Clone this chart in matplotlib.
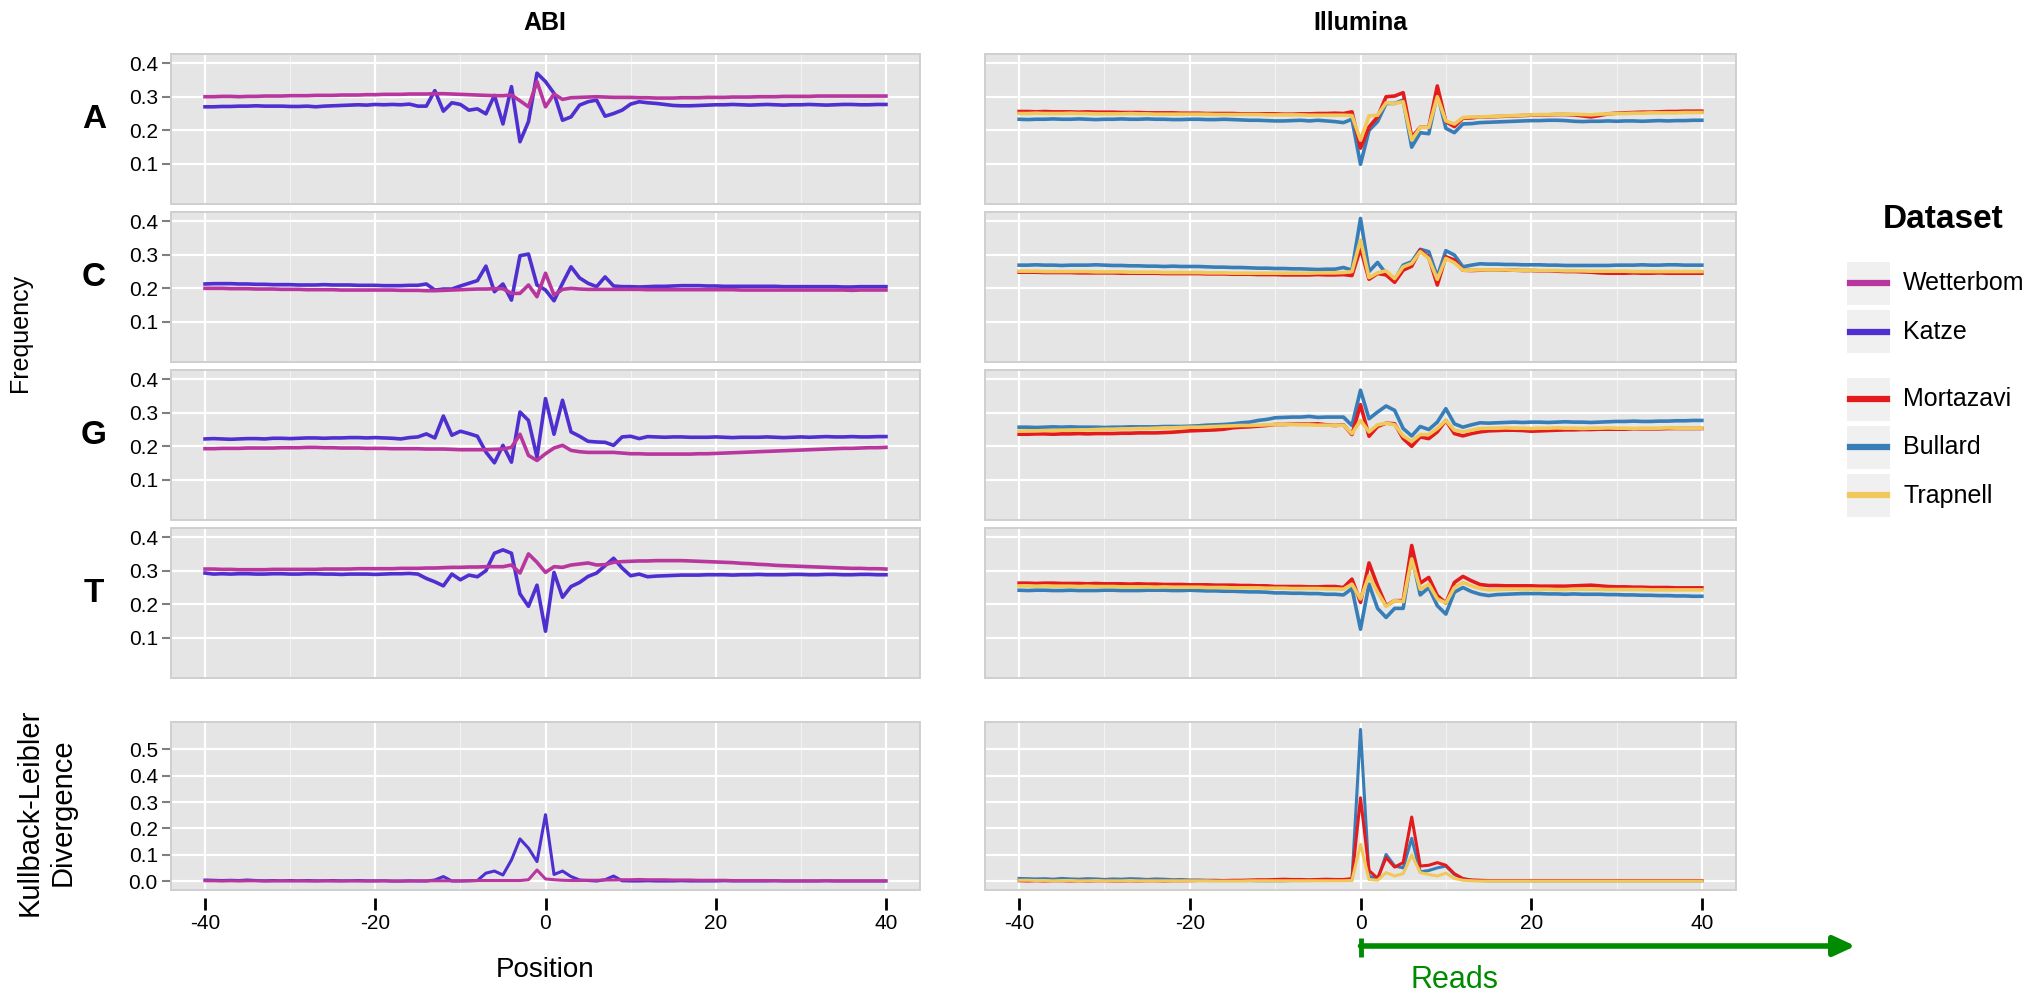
import matplotlib
matplotlib.use("Agg")
import matplotlib.pyplot as plt
import matplotlib.transforms as mtransforms
from matplotlib.patches import Rectangle
from matplotlib.lines import Line2D

plt.rcParams['font.family'] = ['Liberation Sans', 'DejaVu Sans']
plt.rcParams['axes.unicode_minus'] = False

# ---------------------------------------------------------------- data
positions = list(range(-40, 41))
bases = ["A", "C", "G", "T"]

# ABI: Wetterbom / Katze nucleotide frequencies
abi_wetterbom_A = [
    0.300, 0.300, 0.301, 0.301, 0.300, 0.301, 0.301, 0.302, 0.302, 0.302,
    0.303, 0.303, 0.303, 0.304, 0.304, 0.304, 0.305, 0.305, 0.305, 0.306,
    0.306, 0.307, 0.307, 0.307, 0.308, 0.308, 0.308, 0.309, 0.309, 0.308,
    0.307, 0.306, 0.305, 0.304, 0.303, 0.303, 0.305, 0.288, 0.270, 0.345,
    0.270, 0.308, 0.292, 0.297, 0.298, 0.299, 0.300, 0.299, 0.298, 0.298,
    0.298, 0.297, 0.297, 0.296, 0.296, 0.296, 0.297, 0.297, 0.297, 0.298,
    0.298, 0.298, 0.299, 0.299, 0.299, 0.300, 0.300, 0.300, 0.301, 0.301,
    0.301, 0.301, 0.302, 0.302, 0.302, 0.302, 0.302, 0.302, 0.302, 0.302,
    0.302]
abi_katze_A = [
    0.270, 0.270, 0.271, 0.271, 0.272, 0.272, 0.273, 0.272, 0.272, 0.272,
    0.271, 0.271, 0.272, 0.270, 0.272, 0.273, 0.274, 0.275, 0.276, 0.275,
    0.277, 0.276, 0.277, 0.276, 0.278, 0.272, 0.272, 0.318, 0.257, 0.282,
    0.277, 0.260, 0.264, 0.249, 0.304, 0.219, 0.330, 0.166, 0.226, 0.370,
    0.345, 0.310, 0.230, 0.240, 0.275, 0.285, 0.290, 0.242, 0.250, 0.260,
    0.278, 0.285, 0.282, 0.280, 0.277, 0.274, 0.273, 0.273, 0.274, 0.275,
    0.276, 0.276, 0.277, 0.276, 0.275, 0.276, 0.277, 0.276, 0.275, 0.276,
    0.276, 0.277, 0.276, 0.275, 0.276, 0.277, 0.277, 0.276, 0.276, 0.277,
    0.277]
abi_wetterbom_C = [
    0.200, 0.200, 0.200, 0.199, 0.199, 0.199, 0.198, 0.198, 0.198, 0.197,
    0.197, 0.197, 0.196, 0.196, 0.196, 0.196, 0.195, 0.195, 0.195, 0.195,
    0.195, 0.195, 0.195, 0.194, 0.194, 0.194, 0.193, 0.193, 0.194, 0.195,
    0.196, 0.197, 0.198, 0.198, 0.199, 0.199, 0.185, 0.185, 0.210, 0.175,
    0.245, 0.180, 0.197, 0.200, 0.198, 0.197, 0.197, 0.197, 0.197, 0.197,
    0.197, 0.197, 0.196, 0.196, 0.196, 0.196, 0.196, 0.196, 0.196, 0.196,
    0.196, 0.196, 0.196, 0.195, 0.195, 0.195, 0.195, 0.195, 0.195, 0.195,
    0.195, 0.195, 0.195, 0.195, 0.195, 0.195, 0.194, 0.195, 0.195, 0.195,
    0.195]
abi_katze_C = [
    0.213, 0.214, 0.214, 0.214, 0.213, 0.213, 0.212, 0.212, 0.211, 0.211,
    0.211, 0.210, 0.210, 0.210, 0.211, 0.210, 0.210, 0.210, 0.209, 0.209,
    0.209, 0.208, 0.208, 0.208, 0.209, 0.209, 0.213, 0.195, 0.198, 0.198,
    0.207, 0.215, 0.223, 0.266, 0.190, 0.213, 0.165, 0.297, 0.302, 0.210,
    0.195, 0.163, 0.215, 0.264, 0.231, 0.215, 0.205, 0.234, 0.207, 0.205,
    0.205, 0.204, 0.205, 0.206, 0.206, 0.207, 0.208, 0.208, 0.208, 0.207,
    0.207, 0.206, 0.206, 0.206, 0.206, 0.206, 0.206, 0.206, 0.205, 0.205,
    0.205, 0.205, 0.205, 0.205, 0.205, 0.204, 0.204, 0.205, 0.205, 0.205,
    0.205]
abi_wetterbom_G = [
    0.193, 0.193, 0.194, 0.194, 0.194, 0.195, 0.195, 0.195, 0.195, 0.196,
    0.196, 0.196, 0.197, 0.197, 0.196, 0.196, 0.195, 0.195, 0.195, 0.194,
    0.194, 0.194, 0.193, 0.193, 0.193, 0.193, 0.192, 0.192, 0.192, 0.191,
    0.190, 0.190, 0.190, 0.190, 0.191, 0.192, 0.197, 0.236, 0.173, 0.158,
    0.178, 0.195, 0.203, 0.188, 0.184, 0.182, 0.182, 0.182, 0.182, 0.180,
    0.178, 0.178, 0.177, 0.177, 0.177, 0.177, 0.177, 0.177, 0.178, 0.178,
    0.179, 0.180, 0.181, 0.182, 0.183, 0.184, 0.185, 0.186, 0.187, 0.188,
    0.189, 0.190, 0.191, 0.192, 0.193, 0.194, 0.194, 0.195, 0.196, 0.196,
    0.197]
abi_katze_G = [
    0.222, 0.223, 0.222, 0.221, 0.222, 0.223, 0.223, 0.222, 0.224, 0.224,
    0.223, 0.224, 0.225, 0.225, 0.224, 0.225, 0.225, 0.226, 0.226, 0.225,
    0.226, 0.225, 0.224, 0.222, 0.226, 0.228, 0.237, 0.225, 0.290, 0.233,
    0.245, 0.238, 0.230, 0.183, 0.151, 0.203, 0.153, 0.302, 0.277, 0.168,
    0.342, 0.236, 0.337, 0.243, 0.230, 0.215, 0.213, 0.212, 0.203, 0.228,
    0.230, 0.223, 0.229, 0.228, 0.227, 0.228, 0.228, 0.227, 0.227, 0.227,
    0.228, 0.227, 0.226, 0.227, 0.227, 0.227, 0.228, 0.227, 0.226, 0.227,
    0.228, 0.227, 0.228, 0.229, 0.228, 0.228, 0.229, 0.228, 0.228, 0.229,
    0.229]
abi_wetterbom_T = [
    0.305, 0.305, 0.304, 0.304, 0.303, 0.303, 0.303, 0.303, 0.304, 0.304,
    0.304, 0.304, 0.304, 0.304, 0.305, 0.305, 0.305, 0.305, 0.306, 0.306,
    0.306, 0.306, 0.306, 0.307, 0.307, 0.307, 0.308, 0.308, 0.309, 0.310,
    0.310, 0.311, 0.311, 0.312, 0.312, 0.312, 0.317, 0.293, 0.350, 0.325,
    0.295, 0.312, 0.310, 0.317, 0.320, 0.323, 0.317, 0.318, 0.325, 0.327,
    0.328, 0.329, 0.329, 0.330, 0.330, 0.330, 0.330, 0.329, 0.328, 0.327,
    0.326, 0.325, 0.324, 0.322, 0.321, 0.319, 0.318, 0.316, 0.315, 0.314,
    0.313, 0.312, 0.311, 0.310, 0.309, 0.308, 0.307, 0.307, 0.306, 0.306,
    0.305]
abi_katze_T = [
    0.293, 0.290, 0.291, 0.290, 0.291, 0.291, 0.290, 0.290, 0.291, 0.291,
    0.290, 0.290, 0.291, 0.291, 0.290, 0.290, 0.289, 0.290, 0.290, 0.290,
    0.289, 0.290, 0.291, 0.291, 0.292, 0.290, 0.277, 0.267, 0.255, 0.290,
    0.273, 0.287, 0.282, 0.300, 0.352, 0.362, 0.352, 0.231, 0.194, 0.257,
    0.120, 0.295, 0.221, 0.253, 0.265, 0.283, 0.293, 0.315, 0.337, 0.308,
    0.285, 0.290, 0.282, 0.284, 0.285, 0.286, 0.287, 0.287, 0.287, 0.288,
    0.288, 0.288, 0.287, 0.288, 0.288, 0.289, 0.288, 0.288, 0.288, 0.289,
    0.289, 0.288, 0.288, 0.289, 0.289, 0.288, 0.288, 0.289, 0.289, 0.288,
    0.288]

# Illumina: Mortazavi / Bullard / Trapnell nucleotide frequencies
ill_mortazavi_A = [
    0.256, 0.256, 0.255, 0.256, 0.255, 0.255, 0.255, 0.254, 0.255, 0.254,
    0.254, 0.254, 0.253, 0.253, 0.253, 0.252, 0.252, 0.252, 0.252, 0.251,
    0.251, 0.251, 0.250, 0.250, 0.250, 0.250, 0.249, 0.249, 0.249, 0.249,
    0.249, 0.248, 0.248, 0.249, 0.249, 0.250, 0.250, 0.251, 0.250, 0.255,
    0.147, 0.210, 0.240, 0.300, 0.302, 0.312, 0.180, 0.209, 0.209, 0.332,
    0.226, 0.211, 0.236, 0.237, 0.240, 0.240, 0.241, 0.242, 0.243, 0.244,
    0.245, 0.246, 0.246, 0.247, 0.247, 0.246, 0.243, 0.240, 0.244, 0.249,
    0.251, 0.252, 0.253, 0.254, 0.254, 0.255, 0.256, 0.256, 0.257, 0.257,
    0.257]
ill_bullard_A = [
    0.233, 0.232, 0.233, 0.233, 0.234, 0.233, 0.233, 0.234, 0.233, 0.232,
    0.233, 0.233, 0.234, 0.233, 0.233, 0.234, 0.233, 0.233, 0.232, 0.232,
    0.233, 0.233, 0.232, 0.232, 0.233, 0.232, 0.231, 0.230, 0.230, 0.229,
    0.228, 0.228, 0.229, 0.230, 0.228, 0.230, 0.228, 0.226, 0.223, 0.233,
    0.099, 0.200, 0.226, 0.280, 0.280, 0.290, 0.150, 0.193, 0.190, 0.310,
    0.206, 0.193, 0.219, 0.220, 0.223, 0.224, 0.225, 0.226, 0.227, 0.228,
    0.229, 0.229, 0.230, 0.230, 0.229, 0.227, 0.226, 0.227, 0.227, 0.228,
    0.227, 0.228, 0.228, 0.227, 0.228, 0.229, 0.228, 0.229, 0.229, 0.230,
    0.230]
ill_trapnell_A = [
    0.250, 0.250, 0.251, 0.250, 0.250, 0.250, 0.251, 0.250, 0.250, 0.249,
    0.249, 0.249, 0.249, 0.250, 0.249, 0.249, 0.248, 0.248, 0.248, 0.248,
    0.248, 0.248, 0.248, 0.247, 0.247, 0.247, 0.247, 0.247, 0.247, 0.246,
    0.246, 0.246, 0.246, 0.246, 0.245, 0.245, 0.245, 0.245, 0.245, 0.244,
    0.171, 0.243, 0.245, 0.282, 0.280, 0.285, 0.171, 0.209, 0.209, 0.300,
    0.228, 0.219, 0.238, 0.240, 0.240, 0.241, 0.242, 0.243, 0.244, 0.245,
    0.246, 0.247, 0.247, 0.248, 0.248, 0.248, 0.247, 0.246, 0.248, 0.249,
    0.250, 0.250, 0.251, 0.251, 0.252, 0.252, 0.252, 0.252, 0.253, 0.253,
    0.253]
ill_mortazavi_C = [
    0.248, 0.248, 0.248, 0.247, 0.247, 0.247, 0.247, 0.246, 0.246, 0.246,
    0.246, 0.246, 0.245, 0.245, 0.245, 0.245, 0.245, 0.244, 0.244, 0.244,
    0.244, 0.244, 0.243, 0.243, 0.243, 0.242, 0.242, 0.242, 0.241, 0.241,
    0.241, 0.240, 0.240, 0.240, 0.240, 0.241, 0.240, 0.240, 0.241, 0.238,
    0.319, 0.227, 0.244, 0.240, 0.218, 0.254, 0.266, 0.314, 0.292, 0.210,
    0.294, 0.284, 0.254, 0.253, 0.254, 0.255, 0.255, 0.254, 0.254, 0.253,
    0.253, 0.252, 0.252, 0.251, 0.250, 0.250, 0.249, 0.248, 0.246, 0.245,
    0.245, 0.245, 0.246, 0.245, 0.245, 0.246, 0.245, 0.245, 0.245, 0.245,
    0.245]
ill_bullard_C = [
    0.269, 0.269, 0.270, 0.269, 0.269, 0.268, 0.269, 0.269, 0.269, 0.270,
    0.269, 0.268, 0.268, 0.267, 0.267, 0.266, 0.266, 0.265, 0.266, 0.265,
    0.265, 0.265, 0.264, 0.263, 0.263, 0.262, 0.262, 0.261, 0.260, 0.260,
    0.259, 0.259, 0.258, 0.258, 0.257, 0.256, 0.257, 0.257, 0.262, 0.254,
    0.408, 0.250, 0.277, 0.244, 0.225, 0.269, 0.279, 0.316, 0.309, 0.234,
    0.312, 0.299, 0.264, 0.269, 0.273, 0.272, 0.272, 0.271, 0.271, 0.270,
    0.270, 0.270, 0.269, 0.269, 0.268, 0.268, 0.268, 0.268, 0.268, 0.268,
    0.269, 0.269, 0.269, 0.270, 0.269, 0.269, 0.270, 0.270, 0.269, 0.269,
    0.269]
ill_trapnell_C = [
    0.251, 0.251, 0.251, 0.250, 0.250, 0.250, 0.250, 0.250, 0.250, 0.249,
    0.249, 0.249, 0.249, 0.248, 0.248, 0.248, 0.248, 0.247, 0.247, 0.247,
    0.247, 0.247, 0.246, 0.246, 0.246, 0.245, 0.245, 0.245, 0.245, 0.245,
    0.245, 0.245, 0.245, 0.245, 0.245, 0.246, 0.246, 0.246, 0.247, 0.250,
    0.344, 0.232, 0.246, 0.252, 0.229, 0.264, 0.274, 0.309, 0.289, 0.227,
    0.289, 0.276, 0.254, 0.254, 0.255, 0.255, 0.255, 0.255, 0.254, 0.254,
    0.254, 0.253, 0.253, 0.253, 0.252, 0.252, 0.252, 0.251, 0.251, 0.251,
    0.251, 0.251, 0.250, 0.250, 0.250, 0.250, 0.250, 0.250, 0.250, 0.250,
    0.250]
ill_mortazavi_G = [
    0.236, 0.236, 0.237, 0.237, 0.236, 0.237, 0.237, 0.238, 0.237, 0.238,
    0.238, 0.238, 0.239, 0.239, 0.240, 0.240, 0.240, 0.241, 0.242, 0.244,
    0.246, 0.247, 0.248, 0.249, 0.251, 0.255, 0.257, 0.258, 0.260, 0.262,
    0.265, 0.265, 0.266, 0.266, 0.266, 0.267, 0.264, 0.262, 0.264, 0.235,
    0.324, 0.230, 0.259, 0.269, 0.267, 0.223, 0.200, 0.228, 0.223, 0.243,
    0.277, 0.238, 0.231, 0.238, 0.243, 0.246, 0.247, 0.248, 0.248, 0.247,
    0.245, 0.246, 0.247, 0.248, 0.249, 0.249, 0.250, 0.250, 0.251, 0.251,
    0.251, 0.251, 0.252, 0.252, 0.252, 0.252, 0.253, 0.253, 0.253, 0.253,
    0.253]
ill_bullard_G = [
    0.257, 0.257, 0.256, 0.257, 0.258, 0.257, 0.258, 0.257, 0.257, 0.257,
    0.256, 0.257, 0.257, 0.258, 0.258, 0.258, 0.258, 0.259, 0.259, 0.259,
    0.260, 0.261, 0.263, 0.264, 0.265, 0.267, 0.270, 0.272, 0.277, 0.280,
    0.285, 0.286, 0.287, 0.287, 0.289, 0.286, 0.287, 0.287, 0.287, 0.262,
    0.367, 0.282, 0.302, 0.320, 0.307, 0.253, 0.231, 0.259, 0.250, 0.272,
    0.312, 0.267, 0.257, 0.264, 0.270, 0.269, 0.270, 0.271, 0.272, 0.271,
    0.272, 0.272, 0.271, 0.272, 0.273, 0.272, 0.272, 0.271, 0.272, 0.273,
    0.274, 0.274, 0.275, 0.274, 0.274, 0.275, 0.275, 0.276, 0.276, 0.277,
    0.277]
ill_trapnell_G = [
    0.245, 0.246, 0.246, 0.247, 0.247, 0.248, 0.248, 0.249, 0.249, 0.250,
    0.251, 0.251, 0.252, 0.252, 0.253, 0.253, 0.254, 0.255, 0.255, 0.256,
    0.257, 0.257, 0.258, 0.259, 0.260, 0.261, 0.262, 0.262, 0.263, 0.264,
    0.265, 0.265, 0.265, 0.264, 0.264, 0.263, 0.263, 0.262, 0.263, 0.238,
    0.277, 0.243, 0.264, 0.269, 0.264, 0.231, 0.215, 0.235, 0.235, 0.253,
    0.277, 0.248, 0.243, 0.248, 0.253, 0.254, 0.254, 0.255, 0.254, 0.254,
    0.253, 0.254, 0.254, 0.255, 0.254, 0.254, 0.253, 0.254, 0.254, 0.255,
    0.254, 0.254, 0.253, 0.254, 0.254, 0.254, 0.255, 0.254, 0.254, 0.254,
    0.254]
ill_mortazavi_T = [
    0.263, 0.263, 0.262, 0.263, 0.263, 0.262, 0.262, 0.262, 0.261, 0.262,
    0.261, 0.261, 0.261, 0.260, 0.261, 0.260, 0.260, 0.259, 0.259, 0.259,
    0.258, 0.258, 0.258, 0.257, 0.257, 0.257, 0.256, 0.256, 0.255, 0.255,
    0.253, 0.253, 0.253, 0.253, 0.252, 0.252, 0.253, 0.253, 0.250, 0.275,
    0.206, 0.323, 0.255, 0.196, 0.211, 0.211, 0.375, 0.263, 0.280, 0.226,
    0.204, 0.265, 0.283, 0.270, 0.259, 0.256, 0.256, 0.255, 0.255, 0.255,
    0.255, 0.254, 0.254, 0.254, 0.254, 0.255, 0.256, 0.257, 0.255, 0.253,
    0.252, 0.252, 0.251, 0.251, 0.250, 0.250, 0.250, 0.249, 0.249, 0.249,
    0.249]
ill_bullard_T = [
    0.242, 0.241, 0.242, 0.242, 0.241, 0.241, 0.242, 0.241, 0.241, 0.241,
    0.242, 0.242, 0.241, 0.241, 0.241, 0.242, 0.242, 0.242, 0.241, 0.241,
    0.242, 0.241, 0.240, 0.240, 0.239, 0.239, 0.238, 0.237, 0.237, 0.236,
    0.234, 0.234, 0.233, 0.233, 0.232, 0.232, 0.230, 0.230, 0.228, 0.247,
    0.126, 0.260, 0.188, 0.161, 0.188, 0.188, 0.345, 0.228, 0.250, 0.196,
    0.171, 0.236, 0.250, 0.238, 0.230, 0.226, 0.229, 0.230, 0.231, 0.232,
    0.232, 0.232, 0.231, 0.231, 0.230, 0.231, 0.230, 0.230, 0.230, 0.229,
    0.229, 0.228, 0.228, 0.227, 0.227, 0.226, 0.226, 0.225, 0.225, 0.224,
    0.224]
ill_trapnell_T = [
    0.255, 0.255, 0.254, 0.255, 0.254, 0.254, 0.254, 0.253, 0.254, 0.253,
    0.253, 0.253, 0.252, 0.252, 0.252, 0.252, 0.251, 0.252, 0.251, 0.251,
    0.251, 0.251, 0.250, 0.250, 0.250, 0.249, 0.249, 0.249, 0.249, 0.248,
    0.248, 0.248, 0.247, 0.247, 0.247, 0.247, 0.246, 0.246, 0.245, 0.260,
    0.216, 0.285, 0.236, 0.194, 0.211, 0.208, 0.335, 0.245, 0.260, 0.216,
    0.204, 0.250, 0.265, 0.255, 0.247, 0.243, 0.244, 0.245, 0.245, 0.245,
    0.245, 0.245, 0.245, 0.244, 0.244, 0.245, 0.245, 0.245, 0.245, 0.244,
    0.244, 0.244, 0.244, 0.244, 0.243, 0.243, 0.243, 0.243, 0.243, 0.243,
    0.243]

# Kullback-Leibler divergence
abi_wetterbom_kl = [
    0.001, 0.001, 0.000, 0.001, 0.000, 0.001, 0.001, 0.000, 0.000, 0.001,
    0.000, 0.001, 0.000, 0.000, 0.001, 0.000, 0.000, 0.001, 0.000, 0.000,
    0.000, 0.001, 0.000, 0.000, 0.000, 0.001, 0.001, 0.001, 0.001, 0.001,
    0.001, 0.001, 0.002, 0.002, 0.002, 0.002, 0.002, 0.002, 0.005, 0.042,
    0.008, 0.005, 0.003, 0.002, 0.002, 0.003, 0.003, 0.004, 0.004, 0.005,
    0.005, 0.006, 0.005, 0.005, 0.005, 0.004, 0.004, 0.004, 0.003, 0.003,
    0.003, 0.003, 0.002, 0.002, 0.002, 0.002, 0.002, 0.001, 0.001, 0.001,
    0.001, 0.001, 0.001, 0.001, 0.001, 0.001, 0.001, 0.001, 0.001, 0.001,
    0.001]
abi_katze_kl = [
    0.004, 0.003, 0.002, 0.003, 0.002, 0.004, 0.002, 0.001, 0.002, 0.001,
    0.002, 0.001, 0.002, 0.001, 0.001, 0.002, 0.001, 0.001, 0.002, 0.001,
    0.001, 0.001, 0.000, 0.000, 0.001, 0.000, 0.000, 0.004, 0.017, 0.000,
    0.000, 0.001, 0.002, 0.030, 0.038, 0.023, 0.080, 0.160, 0.125, 0.074,
    0.252, 0.025, 0.038, 0.017, 0.004, 0.002, 0.000, 0.005, 0.019, 0.001,
    0.000, 0.000, 0.001, 0.000, 0.000, 0.000, 0.001, 0.000, 0.000, 0.000,
    0.000, 0.001, 0.000, 0.000, 0.000, 0.000, 0.000, 0.001, 0.000, 0.000,
    0.000, 0.000, 0.000, 0.001, 0.000, 0.000, 0.000, 0.000, 0.000, 0.000,
    0.000]
ill_mortazavi_kl = [
    0.001, 0.000, 0.001, 0.000, 0.001, 0.001, 0.000, 0.001, 0.000, 0.001,
    0.001, 0.000, 0.000, 0.001, 0.000, 0.001, 0.001, 0.000, 0.001, 0.001,
    0.001, 0.002, 0.002, 0.002, 0.002, 0.003, 0.003, 0.004, 0.005, 0.005,
    0.006, 0.007, 0.006, 0.006, 0.005, 0.006, 0.007, 0.006, 0.006, 0.009,
    0.316, 0.040, 0.010, 0.089, 0.053, 0.070, 0.243, 0.057, 0.060, 0.070,
    0.060, 0.028, 0.009, 0.004, 0.003, 0.002, 0.002, 0.002, 0.002, 0.002,
    0.002, 0.002, 0.002, 0.002, 0.002, 0.002, 0.002, 0.002, 0.002, 0.002,
    0.002, 0.002, 0.002, 0.002, 0.002, 0.002, 0.002, 0.002, 0.002, 0.002,
    0.002]
ill_bullard_kl = [
    0.010, 0.009, 0.008, 0.009, 0.007, 0.010, 0.008, 0.007, 0.009, 0.008,
    0.006, 0.008, 0.007, 0.009, 0.008, 0.006, 0.008, 0.007, 0.005, 0.006,
    0.004, 0.004, 0.003, 0.003, 0.002, 0.002, 0.002, 0.002, 0.001, 0.001,
    0.001, 0.001, 0.002, 0.002, 0.002, 0.003, 0.002, 0.003, 0.003, 0.004,
    0.576, 0.019, 0.006, 0.101, 0.057, 0.050, 0.162, 0.035, 0.040, 0.050,
    0.057, 0.025, 0.009, 0.003, 0.002, 0.001, 0.001, 0.001, 0.001, 0.001,
    0.001, 0.001, 0.001, 0.001, 0.001, 0.001, 0.001, 0.001, 0.001, 0.001,
    0.001, 0.001, 0.001, 0.001, 0.001, 0.001, 0.001, 0.001, 0.001, 0.001,
    0.001]
ill_trapnell_kl = [
    0.003, 0.003, 0.002, 0.002, 0.001, 0.002, 0.002, 0.001, 0.001, 0.002,
    0.001, 0.001, 0.001, 0.002, 0.001, 0.001, 0.001, 0.001, 0.001, 0.001,
    0.001, 0.001, 0.001, 0.000, 0.000, 0.000, 0.000, 0.001, 0.001, 0.001,
    0.001, 0.001, 0.001, 0.001, 0.001, 0.001, 0.001, 0.001, 0.001, 0.002,
    0.139, 0.006, 0.003, 0.032, 0.019, 0.028, 0.099, 0.032, 0.025, 0.019,
    0.030, 0.010, 0.003, 0.001, 0.000, 0.000, 0.000, 0.000, 0.000, 0.000,
    0.000, 0.000, 0.000, 0.000, 0.000, 0.000, 0.000, 0.000, 0.000, 0.000,
    0.000, 0.000, 0.000, 0.000, 0.000, 0.000, 0.000, 0.000, 0.000, 0.000,
    0.000]

colors = {
    "Wetterbom": "#B8369E",
    "Katze": "#4F2FD0",
    "Mortazavi": "#E41A1C",
    "Bullard": "#377EB8",
    "Trapnell": "#F1C85A",
}

# draw order per column (later = on top)
abi_freq = {
    "A": [("Katze", abi_katze_A), ("Wetterbom", abi_wetterbom_A)],
    "C": [("Katze", abi_katze_C), ("Wetterbom", abi_wetterbom_C)],
    "G": [("Katze", abi_katze_G), ("Wetterbom", abi_wetterbom_G)],
    "T": [("Katze", abi_katze_T), ("Wetterbom", abi_wetterbom_T)],
}
ill_freq = {
    "A": [("Bullard", ill_bullard_A), ("Mortazavi", ill_mortazavi_A), ("Trapnell", ill_trapnell_A)],
    "C": [("Bullard", ill_bullard_C), ("Mortazavi", ill_mortazavi_C), ("Trapnell", ill_trapnell_C)],
    "G": [("Bullard", ill_bullard_G), ("Mortazavi", ill_mortazavi_G), ("Trapnell", ill_trapnell_G)],
    "T": [("Bullard", ill_bullard_T), ("Mortazavi", ill_mortazavi_T), ("Trapnell", ill_trapnell_T)],
}
abi_kl = [("Katze", abi_katze_kl), ("Wetterbom", abi_wetterbom_kl)]
ill_kl = [("Bullard", ill_bullard_kl), ("Mortazavi", ill_mortazavi_kl), ("Trapnell", ill_trapnell_kl)]

legend_groups = [["Wetterbom", "Katze"], ["Mortazavi", "Bullard", "Trapnell"]]

# ---------------------------------------------------------------- layout
W, H = 2043, 997
PANEL_BG = "#E5E5E5"
GREEN = "#008B00"


def rect(left, top, right, bottom):
    return [left / W, 1 - bottom / H, (right - left) / W, (bottom - top) / H]


cols = {"ABI": (171, 920), "Illumina": (985, 1736)}
rows = {"A": (54, 204), "C": (212, 362), "G": (370, 520), "T": (528, 678)}
kl_row = (722, 890)

fig = plt.figure(figsize=(W / 100, H / 100), dpi=100)


def style_panel(ax, show_ylabels):
    ax.set_facecolor(PANEL_BG)
    ax.set_xlim(-44, 44)
    ax.set_xticks([-40, -20, 0, 20, 40])
    ax.set_xticks([-30, -10, 10, 30], minor=True)
    ax.grid(which="major", color="white", lw=1.6)
    ax.grid(which="minor", axis="x", color="#F3F3F3", lw=0.8)
    ax.set_axisbelow(True)
    for sp in ax.spines.values():
        sp.set_visible(False)
    ax.add_patch(Rectangle((0, 0), 1, 1, transform=ax.transAxes, fill=False,
                           edgecolor="#CFCFCF", lw=1.4, clip_on=False, zorder=5))
    ax.tick_params(axis="x", which="both", bottom=False, labelbottom=False)
    if show_ylabels:
        ax.tick_params(axis="y", length=6.5, width=1.5, color="#7F7F7F",
                       labelsize=15, pad=3)
    else:
        ax.tick_params(axis="y", left=False, labelleft=False)


for col_name, (cl, cr) in cols.items():
    freq = abi_freq if col_name == "ABI" else ill_freq
    for base in bases:
        top, bottom = rows[base]
        ax = fig.add_axes(rect(cl, top, cr, bottom))
        style_panel(ax, col_name == "ABI")
        ax.set_ylim(-0.019, 0.427)
        ax.set_yticks([0.1, 0.2, 0.3, 0.4])
        for name, vals in freq[base]:
            ax.plot(positions, vals, color=colors[name], lw=2.6)

    ax = fig.add_axes(rect(cl, kl_row[0], cr, kl_row[1]))
    style_panel(ax, col_name == "ABI")
    ax.set_ylim(-0.034, 0.604)
    ax.set_yticks([0.0, 0.1, 0.2, 0.3, 0.4, 0.5])
    for name, vals in (abi_kl if col_name == "ABI" else ill_kl):
        ax.plot(positions, vals, color=colors[name], lw=2.2)
    ax.spines["bottom"].set_position(("outward", 6))
    ax.tick_params(axis="x", which="major", bottom=True, labelbottom=True,
                   length=8.5, width=2.0, color="black", labelsize=15, pad=3)
    ax.tick_params(axis="x", which="minor", bottom=False)
    if col_name == "ABI":
        ax.set_xlabel("Position", fontsize=20, labelpad=17)
    else:
        ill_kl_ax = ax

# column titles
fig.text(545 / W, 1 - 23 / H, "ABI", fontsize=18, fontweight="bold",
         ha="center", va="center")
fig.text(1360 / W, 1 - 23 / H, "Illumina", fontsize=18, fontweight="bold",
         ha="center", va="center")

# row labels
for base in bases:
    top, bottom = rows[base]
    fig.text(94 / W, 1 - ((top + bottom) / 2 - 10) / H, base, fontsize=24,
             fontweight="bold", ha="center", va="center")

fig.text(20 / W, 1 - 333 / H, "Frequency", fontsize=18, rotation=90,
         ha="center", va="center")
fig.text(46 / W, 1 - 812 / H, "Kullback-Leibler\nDivergence", fontsize=21,
         rotation=90, ha="center", va="center", linespacing=1.25,
         multialignment="center")

# reads arrow under the Illumina panel
tr = mtransforms.blended_transform_factory(ill_kl_ax.transData, fig.transFigure)
y_arrow = 1 - 946 / H
ill_kl_ax.annotate("", xy=(58, y_arrow), xytext=(0, y_arrow), xycoords=tr,
                   textcoords=tr, annotation_clip=False,
                   arrowprops=dict(arrowstyle="-|>,head_length=1.3,head_width=0.6",
                                   color=GREEN, lw=4, shrinkA=0, shrinkB=0))
ill_kl_ax.plot([0, 0], [1 - 938 / H, 1 - 957 / H], transform=tr, color=GREEN,
               lw=3.5, clip_on=False, solid_capstyle="butt")
ill_kl_ax.text(11, 1 - 980 / H, "Reads", transform=tr, color=GREEN,
               fontsize=22, ha="center", va="center")

# legend
fig.text(1943 / W, 1 - 220 / H, "Dataset", fontsize=24, fontweight="bold",
         ha="center", va="center")
key_top = 262
for gi, group in enumerate(legend_groups):
    for name in group:
        fig.patches.append(Rectangle((1847 / W, 1 - (key_top + 43) / H), 43 / W, 43 / H,
                                     transform=fig.transFigure, facecolor="#F0F0F0",
                                     edgecolor="none"))
        yc = 1 - (key_top + 21.5) / H
        fig.lines.append(Line2D([1850 / W, 1887 / W], [yc, yc], transform=fig.transFigure,
                                color=colors[name], lw=4.5))
        fig.text(1903 / W, yc, name, fontsize=18, ha="left", va="center")
        key_top += 48
    key_top += 20

fig.savefig("out.png", dpi=100)
